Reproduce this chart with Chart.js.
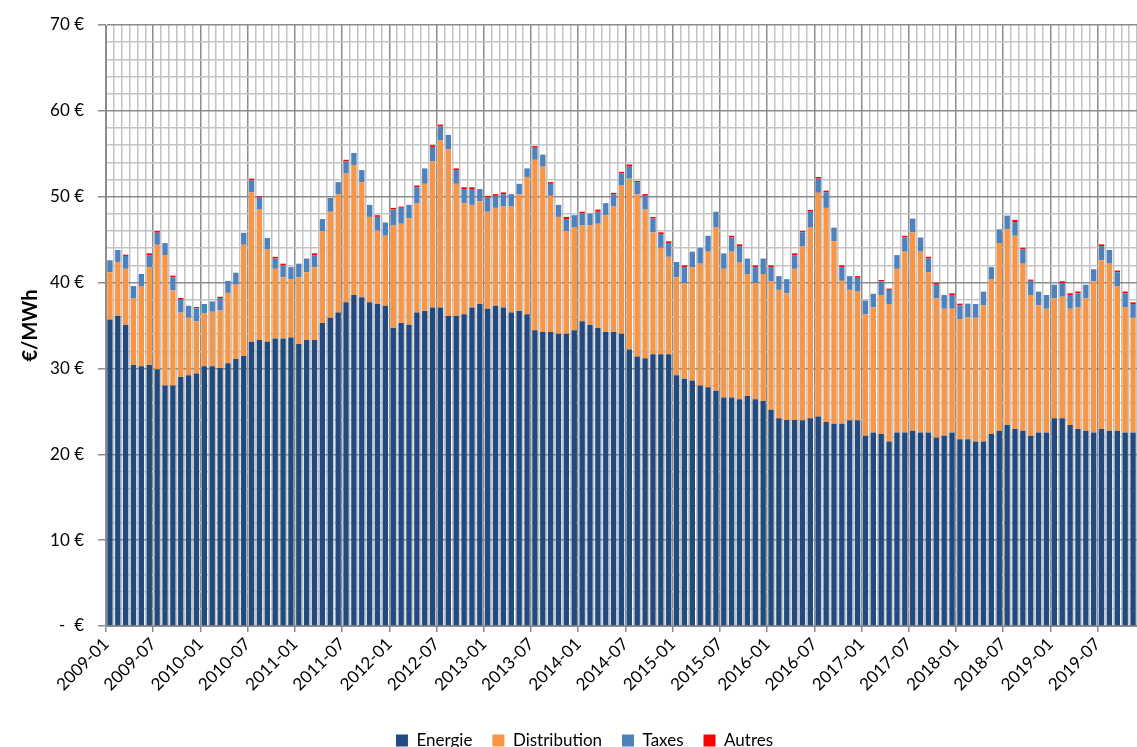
<!DOCTYPE html>
<html lang="fr">
<head>
<meta charset="UTF-8">
<title>Décomposition du prix - €/MWh</title>
<script src="https://cdn.jsdelivr.net/npm/chart.js"></script>
<style>
  html, body { margin: 0; padding: 0; background: #fff; overflow: hidden; }
  #wrap { position: absolute; left: 0; top: 0; width: 1137px; height: 759px; }
</style>
</head>
<body>
<div id="wrap"><canvas id="prixChart"></canvas></div>
<script>
// composantes mensuelles en €/MWh, de 2009-01 à 2019-11
const energie = [
  35.7, 36.1, 35.1, 30.4, 30.25, 30.4, 29.9, 28.0, 28.0, 29.0, 29.2, 29.4,
  30.25, 30.25, 30.05, 30.6, 31.1, 31.45, 33.1, 33.3, 33.1, 33.5, 33.5, 33.6,
  32.85, 33.3, 33.3, 35.3, 35.9, 36.5, 37.7, 38.55, 38.3, 37.7, 37.5, 37.3,
  34.7, 35.3, 35.1, 36.5, 36.7, 37.1, 37.1, 36.1, 36.1, 36.3, 37.1, 37.5,
  36.95, 37.3, 37.1, 36.5, 36.7, 36.3, 34.45, 34.25, 34.25, 34.05, 34.05, 34.45,
  35.5, 35.1, 34.7, 34.25, 34.25, 34.05, 32.2, 31.4, 31.2, 31.65, 31.65, 31.65,
  29.2, 28.8, 28.6, 28.0, 27.8, 27.4, 26.6, 26.6, 26.4, 26.8, 26.4, 26.2,
  25.2, 24.2, 24.0, 24.0, 23.95, 24.2, 24.4, 23.75, 23.55, 23.55, 23.95, 23.95,
  22.15, 22.55, 22.35, 21.5, 22.55, 22.55, 22.75, 22.55, 22.55, 21.95, 22.15, 22.55,
  21.75, 21.75, 21.5, 21.5, 22.35, 22.75, 23.4, 22.95, 22.75, 22.15, 22.55, 22.55,
  24.2, 24.2, 23.4, 22.95, 22.75, 22.55, 22.95, 22.75, 22.75, 22.55, 22.55
];
const distribution = [
  5.5, 6.3, 6.5, 7.8, 9.35, 11.4, 14.5, 15.2, 11.1, 7.5, 6.7, 6.1,
  6.15, 6.35, 6.7, 8.2, 8.65, 12.95, 17.4, 15.2, 10.75, 8.1, 7.1, 6.8,
  7.75, 7.9, 8.5, 10.7, 12.35, 13.8, 15.0, 15.15, 13.4, 9.95, 8.55, 8.15,
  11.95, 11.55, 12.4, 12.75, 14.8, 17.0, 19.45, 19.4, 15.4, 12.95, 11.95, 11.95,
  11.3, 11.4, 11.75, 12.35, 13.6, 16.0, 19.85, 19.25, 15.85, 13.6, 11.95, 11.95,
  11.15, 11.55, 12.15, 13.6, 14.6, 17.25, 19.9, 18.9, 17.3, 14.2, 12.4, 11.35,
  11.4, 11.15, 13.2, 14.2, 15.8, 19.0, 15.0, 17.0, 16.0, 14.2, 13.55, 14.8,
  14.95, 14.95, 14.75, 17.6, 20.3, 22.2, 26.05, 24.95, 21.25, 16.65, 15.2, 15.0,
  14.15, 14.55, 16.2, 16.0, 19.05, 21.05, 23.1, 21.05, 18.65, 16.2, 14.8, 14.4,
  14.0, 14.2, 14.4, 15.85, 18.0, 21.85, 22.8, 22.5, 19.45, 16.4, 14.8, 14.4,
  13.95, 14.15, 13.55, 14.2, 15.4, 17.6, 19.65, 19.45, 16.85, 14.6, 13.35
];
const taxes = [
  1.4, 1.4, 1.5, 1.4, 1.4, 1.4, 1.4, 1.4, 1.5, 1.5, 1.4, 1.5,
  1.1, 1.2, 1.45, 1.4, 1.4, 1.4, 1.4, 1.4, 1.35, 1.2, 1.4, 1.4,
  1.6, 1.6, 1.4, 1.4, 1.6, 1.4, 1.4, 1.4, 1.4, 1.4, 1.6, 1.55,
  1.85, 1.85, 1.55, 1.85, 1.8, 1.7, 1.65, 1.7, 1.6, 1.65, 1.85, 1.45,
  1.65, 1.4, 1.45, 1.45, 1.2, 1.0, 1.4, 1.4, 1.4, 1.4, 1.4, 1.45,
  1.4, 1.4, 1.4, 1.4, 1.45, 1.4, 1.4, 1.4, 1.6, 1.6, 1.6, 1.6,
  1.8, 1.85, 1.8, 1.85, 1.85, 1.85, 1.8, 1.65, 1.85, 1.8, 1.85, 1.8,
  1.65, 1.6, 1.65, 1.6, 1.6, 1.85, 1.65, 1.8, 1.6, 1.6, 1.6, 1.6,
  1.6, 1.6, 1.6, 1.65, 1.6, 1.65, 1.6, 1.65, 1.6, 1.6, 1.6, 1.6,
  1.6, 1.6, 1.6, 1.6, 1.45, 1.6, 1.6, 1.6, 1.65, 1.65, 1.6, 1.6,
  1.6, 1.6, 1.6, 1.6, 1.6, 1.4, 1.65, 1.6, 1.6, 1.6, 1.6
];
const autres = [
  0, 0, 0.15, 0, 0, 0.2, 0.2, 0, 0.2, 0.2, 0, 0.15,
  0, 0, 0.15, 0, 0, 0, 0.2, 0.15, 0, 0.2, 0.2, 0,
  0, 0, 0.2, 0, 0, 0, 0.2, 0, 0, 0, 0.2, 0,
  0.2, 0.15, 0, 0.2, 0, 0.2, 0.2, 0, 0.2, 0.2, 0.2, 0,
  0.2, 0.2, 0.2, 0, 0, 0, 0.2, 0, 0.2, 0, 0.25, 0,
  0.2, 0, 0.25, 0, 0.15, 0.2, 0.25, 0.15, 0.2, 0.2, 0.2, 0.2,
  0, 0.2, 0, 0, 0, 0, 0, 0.2, 0.2, 0, 0.2, 0,
  0.2, 0, 0, 0.2, 0.15, 0.2, 0.2, 0.2, 0, 0.2, 0, 0.2,
  0, 0, 0.15, 0.15, 0, 0.2, 0, 0, 0.2, 0.2, 0, 0.2,
  0.2, 0, 0, 0, 0, 0, 0, 0.25, 0.2, 0.15, 0, 0,
  0, 0.2, 0.2, 0.2, 0, 0, 0.2, 0, 0.2, 0.2, 0.2
];

// libellés mensuels AAAA-MM
const mois = [];
for (let a = 2009; a <= 2019; a++) {
  for (let m = 1; m <= 12; m++) {
    mois.push(a + '-' + String(m).padStart(2, '0'));
  }
}
mois.length = energie.length;

const police = 'Lato, "Open Sans", sans-serif';
const grisFort = '#8c8c8c';
const grisClair = '#c4c4c4';

const ctx = document.getElementById('prixChart').getContext('2d');
new Chart(ctx, {
  type: 'bar',
  data: {
    labels: mois,
    datasets: [
      { label: 'Energie', data: energie, backgroundColor: '#234a7e' },
      { label: 'Distribution', data: distribution, backgroundColor: '#f79646' },
      { label: 'Taxes', data: taxes, backgroundColor: '#4f81bd' },
      { label: 'Autres', data: autres, backgroundColor: '#ff0000' }
    ]
  },
  options: {
    responsive: true,
    maintainAspectRatio: false,
    animation: false,
    datasets: { bar: { categoryPercentage: 1, barPercentage: 0.68 } },
    // marge gauche de 32 px : l'axe y garde 74 px, la légende se recentre
    layout: { padding: { top: 25, right: 0, left: 32, bottom: 0 } },
    plugins: {
      tooltip: { enabled: false },
      legend: {
        position: 'bottom',
        labels: {
          boxWidth: 12, boxHeight: 12, padding: 20,
          color: '#000', font: { family: police, size: 17 }
        }
      }
    },
    scales: {
      x: {
        stacked: true,
        offset: true,
        grid: {
          offset: true,
          lineWidth: 1.5,
          color: c => c.index % 6 === 0 ? grisFort : grisClair,
          tickLength: 6,
          tickColor: c => c.index % 6 === 0 ? grisFort : 'rgba(0,0,0,0)'
        },
        border: { color: grisFort },
        ticks: {
          autoSkip: false,
          minRotation: 45, maxRotation: 45,
          labelOffset: -3.9,
          padding: 2,
          color: '#000',
          font: { family: police, size: 17 },
          callback: (v, i) => i % 6 === 0 ? mois[i] : ''
        },
        afterFit: s => {
          s.height = 86;
          s.paddingRight = 0;
          s.paddingLeft = 0;
        }
      },
      y: {
        stacked: true,
        min: 0, max: 70,
        grid: {
          lineWidth: 1.5,
          color: c => c.tick && c.tick.value % 10 === 0 ? grisFort : grisClair,
          tickLength: 8,
          tickColor: c => c.tick && c.tick.value % 10 === 0 ? grisFort : 'rgba(0,0,0,0)'
        },
        border: { color: grisFort },
        ticks: {
          stepSize: 2,
          autoSkip: false,
          padding: 14,
          color: '#000',
          font: { family: police, size: 17 },
          callback: v => v === 0 ? '-  €' : (v % 10 === 0 ? v + ' €' : '')
        },
        title: {
          display: true,
          text: '€/MWh',
          color: '#000',
          font: { family: police, size: 20, weight: 'bold' },
          padding: { top: -13, bottom: 0 }
        },
        afterFit: s => { s.width = 74; }
      }
    }
  }
});
</script>
</body>
</html>
